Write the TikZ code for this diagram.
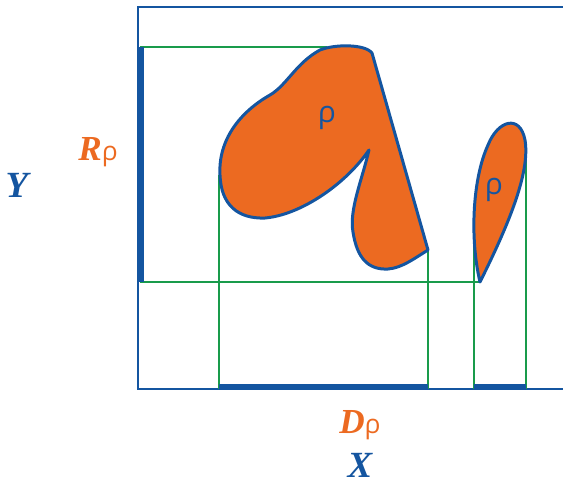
\documentclass[tikz,border=0pt]{standalone}
\usepackage{fontspec}
\setmainfont{Liberation Serif}
\newfontfamily\rhofont{Open Sans}
\definecolor{axisblue}{RGB}{20, 85, 160}
\definecolor{setorange}{RGB}{236, 106, 33}
\definecolor{projgreen}{RGB}{25, 155, 75}
\tikzset{
  frame/.style={draw=axisblue, line width=1.6pt},
  proj/.style={draw=projgreen, line width=1.6pt},
  shadow/.style={draw=axisblue, line width=3.2pt},
  region/.style={draw=axisblue, fill=setorange, line width=1.7pt, line join=round},
  axislabel/.style={font=\fontsize{21}{23}\selectfont\bfseries\itshape, text=axisblue, inner sep=1pt},
  setlabel/.style={font=\fontsize{20}{22}\selectfont, text=setorange, inner sep=1pt},
  rholabel/.style={font=\fontsize{17}{19}\selectfont\rhofont, text=axisblue, inner sep=1pt},
}

\begin{document}
\begin{tikzpicture}[x=0.2mm, y=-0.2mm]

  \useasboundingbox (0,0) rectangle (563,485);

  % ============ FRAME (X times Y) ============
  \draw[frame] (563,7) -- (138,7) -- (138,389) -- (563,389);

  % ============ PROJECTION LINES ============
  \draw[proj] (140,47) -- (327,47);
  \draw[proj] (140,282) -- (479,282);
  \foreach \px/\py in {219/175, 428/250, 474/225, 526/160} {
    \draw[proj] (\px,\py) -- (\px,389);
  }

  % ============ RELATION rho ============
  % big region, with a notch
  \draw[region] (372,53) -- (428,250)
    .. controls (415,258) and (402,268) .. (388,269)
    .. controls (368,270) and (357,258) .. (353,232)
    .. controls (349,210) and (362,180) .. (369,150)
    .. controls (345,185) and (300,215) .. (265,218)
    .. controls (238,219) and (221,205) .. (220,175)
    .. controls (218,140) and (240,112) .. (270,95)
    .. controls (287,85) and (296,63) .. (320,50)
    .. controls (335,44) and (365,44) .. (372,53) -- cycle;

  % small region, a drop
  \draw[region] (480,282)
    .. controls (470,240) and (472,180) .. (488,145)
    .. controls (498,120) and (520,114) .. (525,140)
    .. controls (530,170) and (512,218) .. (480,282) -- cycle;

  % ============ DOMAIN AND RANGE ============
  \draw[shadow] (141,47) -- (141,282);
  \draw[shadow] (219,387) -- (428,387);
  \draw[shadow] (474,387) -- (526,387);

  % ============ LABELS ============
  \node[rholabel] (rho1) at (327,118) {ρ};
  \node[rholabel] (rho2) at (494,190) {ρ};

  \node[axislabel] (ylab) at (17,185) {Y};
  \node[axislabel] (xlab) at (360,465) {X};

  \node[setlabel] (range) at (98,152)
    {\textbf{\textit{R}}{\rhofont\fontsize{15}{17}\selectfont ρ}};
  \node[setlabel] (domain) at (360,425)
    {\textbf{\textit{D}}{\rhofont\fontsize{15}{17}\selectfont ρ}};

\end{tikzpicture}
\end{document}
